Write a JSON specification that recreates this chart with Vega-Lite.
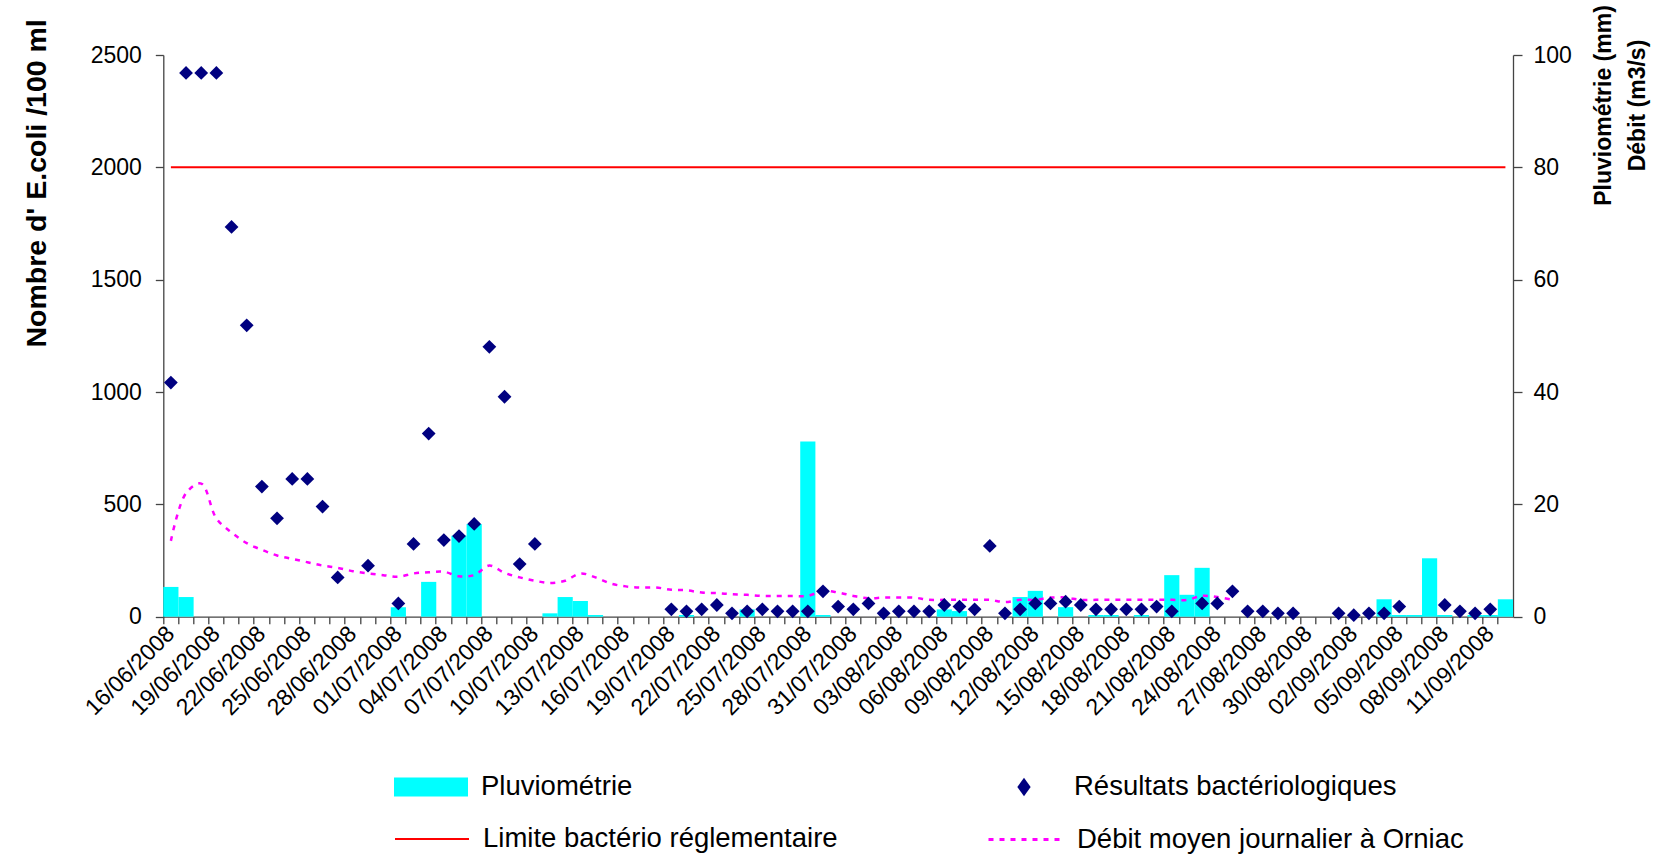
{
  "$schema": "https://vega.github.io/schema/vega-lite/v6.json",
  "width": 1349.7,
  "height": 561.7,
  "autosize": {"type": "none"},
  "padding": {"left": 163.3, "top": 55, "right": 155, "bottom": 238.3},
  "background": "white",
  "config": {
    "view": {"stroke": null},
    "font": "Liberation Sans",
    "axis": {"labelFont": "Liberation Sans", "titleFont": "Liberation Sans", "grid": false, "domainColor": "#444444", "tickColor": "#444444", "labelColor": "black", "titleColor": "black", "domainWidth": 1.3, "tickWidth": 1.3},
    "legend": {"labelFont": "Liberation Sans", "labelFontSize": 27.5, "labelColor": "black", "labelLimit": 800, "labelOffset": 13, "padding": 0, "symbolSize": 5476, "title": null}
  },
  "data": {"values": [
    {"d":"2008-06-16","rain":5.3,"bact":1042,"flow":13.5,"limit":2000},
    {"d":"2008-06-17","rain":3.5,"bact":2420,"flow":22.0,"limit":2000},
    {"d":"2008-06-18","bact":2420,"flow":23.7,"limit":2000},
    {"d":"2008-06-19","bact":2420,"flow":17.5,"limit":2000},
    {"d":"2008-06-20","bact":1735,"flow":15.0,"limit":2000},
    {"d":"2008-06-21","bact":1297,"flow":13.1,"limit":2000},
    {"d":"2008-06-22","bact":579,"flow":11.9,"limit":2000},
    {"d":"2008-06-23","bact":438,"flow":10.9,"limit":2000},
    {"d":"2008-06-24","bact":613,"flow":10.3,"limit":2000},
    {"d":"2008-06-25","bact":613,"flow":9.7,"limit":2000},
    {"d":"2008-06-26","bact":490,"flow":9.1,"limit":2000},
    {"d":"2008-06-27","bact":175,"flow":8.7,"limit":2000},
    {"d":"2008-06-28","flow":8.1,"limit":2000},
    {"d":"2008-06-29","bact":227,"flow":7.7,"limit":2000},
    {"d":"2008-06-30","flow":7.4,"limit":2000},
    {"d":"2008-07-01","rain":1.7,"bact":59,"flow":7.1,"limit":2000},
    {"d":"2008-07-02","bact":324,"flow":7.7,"limit":2000},
    {"d":"2008-07-03","rain":6.2,"bact":815,"flow":7.9,"limit":2000},
    {"d":"2008-07-04","bact":341,"flow":8.0,"limit":2000},
    {"d":"2008-07-05","rain":14.4,"bact":359,"flow":7.2,"limit":2000},
    {"d":"2008-07-06","rain":16.5,"bact":413,"flow":7.4,"limit":2000},
    {"d":"2008-07-07","bact":1201,"flow":9.1,"limit":2000},
    {"d":"2008-07-08","bact":979,"flow":7.8,"limit":2000},
    {"d":"2008-07-09","bact":234,"flow":7.0,"limit":2000},
    {"d":"2008-07-10","bact":324,"flow":6.4,"limit":2000},
    {"d":"2008-07-11","rain":0.6,"flow":6.0,"limit":2000},
    {"d":"2008-07-12","rain":3.5,"flow":6.4,"limit":2000},
    {"d":"2008-07-13","rain":2.8,"flow":7.7,"limit":2000},
    {"d":"2008-07-14","rain":0.3,"flow":7.0,"limit":2000},
    {"d":"2008-07-15","flow":5.9,"limit":2000},
    {"d":"2008-07-16","flow":5.4,"limit":2000},
    {"d":"2008-07-17","flow":5.2,"limit":2000},
    {"d":"2008-07-18","flow":5.2,"limit":2000},
    {"d":"2008-07-19","bact":33,"flow":4.8,"limit":2000},
    {"d":"2008-07-20","rain":0.3,"bact":24,"flow":4.7,"limit":2000},
    {"d":"2008-07-21","bact":33,"flow":4.3,"limit":2000},
    {"d":"2008-07-22","bact":52,"flow":4.2,"limit":2000},
    {"d":"2008-07-23","bact":15,"flow":4.0,"limit":2000},
    {"d":"2008-07-24","rain":1.3,"bact":24,"flow":3.9,"limit":2000},
    {"d":"2008-07-25","bact":33,"flow":3.7,"limit":2000},
    {"d":"2008-07-26","bact":24,"flow":3.7,"limit":2000},
    {"d":"2008-07-27","bact":24,"flow":3.7,"limit":2000},
    {"d":"2008-07-28","rain":31.2,"bact":24,"flow":3.7,"limit":2000},
    {"d":"2008-07-29","rain":0.3,"bact":113,"flow":4.6,"limit":2000},
    {"d":"2008-07-30","bact":45,"flow":4.3,"limit":2000},
    {"d":"2008-07-31","bact":33,"flow":3.7,"limit":2000},
    {"d":"2008-08-01","bact":59,"flow":3.3,"limit":2000},
    {"d":"2008-08-02","bact":15,"flow":3.4,"limit":2000},
    {"d":"2008-08-03","bact":24,"flow":3.4,"limit":2000},
    {"d":"2008-08-04","bact":24,"flow":3.4,"limit":2000},
    {"d":"2008-08-05","bact":24,"flow":3.0,"limit":2000},
    {"d":"2008-08-06","rain":1.3,"bact":52,"flow":3.0,"limit":2000},
    {"d":"2008-08-07","rain":1.0,"bact":45,"flow":3.0,"limit":2000},
    {"d":"2008-08-08","bact":33,"flow":3.0,"limit":2000},
    {"d":"2008-08-09","bact":315,"flow":3.0,"limit":2000},
    {"d":"2008-08-10","bact":15,"flow":2.6,"limit":2000},
    {"d":"2008-08-11","rain":3.5,"bact":33,"flow":3.0,"limit":2000},
    {"d":"2008-08-12","rain":4.6,"bact":59,"flow":3.0,"limit":2000},
    {"d":"2008-08-13","bact":59,"flow":3.4,"limit":2000},
    {"d":"2008-08-14","rain":1.7,"bact":67,"flow":3.4,"limit":2000},
    {"d":"2008-08-15","bact":52,"flow":3.0,"limit":2000},
    {"d":"2008-08-16","rain":0.3,"bact":33,"flow":3.0,"limit":2000},
    {"d":"2008-08-17","rain":0.3,"bact":33,"flow":3.0,"limit":2000},
    {"d":"2008-08-18","bact":33,"flow":3.0,"limit":2000},
    {"d":"2008-08-19","rain":0.3,"bact":33,"flow":3.0,"limit":2000},
    {"d":"2008-08-20","bact":45,"flow":3.0,"limit":2000},
    {"d":"2008-08-21","rain":7.4,"bact":24,"flow":3.0,"limit":2000},
    {"d":"2008-08-22","rain":3.9,"flow":3.0,"limit":2000},
    {"d":"2008-08-23","rain":8.7,"bact":59,"flow":3.7,"limit":2000},
    {"d":"2008-08-24","bact":59,"flow":3.5,"limit":2000},
    {"d":"2008-08-25","bact":113,"flow":3.0,"limit":2000},
    {"d":"2008-08-26","bact":24,"limit":2000},
    {"d":"2008-08-27","bact":24,"limit":2000},
    {"d":"2008-08-28","bact":15,"limit":2000},
    {"d":"2008-08-29","bact":15,"limit":2000},
    {"d":"2008-08-30","limit":2000},
    {"d":"2008-08-31","limit":2000},
    {"d":"2008-09-01","bact":15,"limit":2000},
    {"d":"2008-09-02","bact":7,"limit":2000},
    {"d":"2008-09-03","bact":15,"limit":2000},
    {"d":"2008-09-04","rain":3.1,"bact":15,"limit":2000},
    {"d":"2008-09-05","rain":0.3,"bact":45,"limit":2000},
    {"d":"2008-09-06","rain":0.3,"limit":2000},
    {"d":"2008-09-07","rain":10.4,"limit":2000},
    {"d":"2008-09-08","rain":0.3,"bact":52,"limit":2000},
    {"d":"2008-09-09","bact":24,"limit":2000},
    {"d":"2008-09-10","rain":0.3,"bact":15,"limit":2000},
    {"d":"2008-09-11","rain":0.3,"bact":33,"limit":2000},
    {"d":"2008-09-12","rain":3.1,"limit":2000}
  ]},
  "encoding": {
    "x": {
      "field": "d", "type": "ordinal",
      "scale": {"paddingInner": 0, "paddingOuter": 0},
      "axis": {
        "title": null, "bandPosition": 0, "labelOffset": 0, "labelAngle": -45,
        "labelAlign": "right", "labelBaseline": "middle", "labelFontSize": 23, "labelPadding": 6,
        "tickSize": 7, "labelOverlap": false, "labelBound": false,
        "labelExpr": "round((toDate(datum.value) - toDate('2008-06-16')) / 86400000) % 3 == 0 ? substring(datum.value, 8, 10) + '/' + substring(datum.value, 5, 7) + '/' + substring(datum.value, 0, 4) : ''"
      }
    }
  },
  "layer": [
    {
      "layer": [
        {
          "mark": {"type": "bar", "color": "#00FFFF"},
          "encoding": {
            "y": {"field": "rain", "type": "quantitative", "scale": {"domain": [0, 100]},
              "axis": {"orient": "right", "values": [0, 20, 40, 60, 80, 100], "format": "d", "title": ["Pluviométrie (mm)", "Débit (m3/s)"],
                "titleAngle": 270, "titleX": 90, "titleY": 50, "titleAlign": "center", "titleBaseline": "middle",
                "titleLineHeight": 34, "titleFontSize": 23, "titleFontWeight": "bold", "labelFontSize": 23,
                "tickSize": 9, "labelPadding": 11}},
            "fill": {"datum": "Pluviométrie", "type": "nominal", "scale": {"range": ["#00FFFF"]},
              "legend": {"orient": "none", "legendX": 230.7, "legendY": 695, "symbolType": "M-1,-0.26L1,-0.26L1,0.26L-1,0.26Z", "symbolStrokeWidth": 0, "symbolFillColor": "#00FFFF", "symbolOpacity": 1}}
          }
        },
        {
          "mark": {"type": "line", "color": "#FF00FF", "strokeWidth": 2.5, "interpolate": "catmull-rom"},
          "encoding": {
            "y": {"field": "flow", "type": "quantitative", "scale": {"domain": [0, 100]},
              "axis": {"orient": "right", "values": [0, 20, 40, 60, 80, 100], "format": "d", "title": ["Pluviométrie (mm)", "Débit (m3/s)"],
                "titleAngle": 270, "titleX": 90, "titleY": 50, "titleAlign": "center", "titleBaseline": "middle",
                "titleLineHeight": 34, "titleFontSize": 23, "titleFontWeight": "bold", "labelFontSize": 23,
                "tickSize": 9, "labelPadding": 11}},
            "strokeDash": {"datum": "Débit moyen journalier à Orniac", "type": "nominal", "scale": {"range": [[5, 6]]},
              "legend": {"orient": "none", "legendX": 823.7, "legendY": 746, "symbolType": "stroke", "symbolStrokeColor": "#FF00FF", "symbolStrokeWidth": 3}}
          }
        }
      ]
    },
    {
      "layer": [
        {
          "mark": {"type": "line", "strokeWidth": 2},
          "encoding": {
            "y": {"field": "limit", "type": "quantitative", "scale": {"domain": [0, 2500]},
              "axis": {"orient": "left", "values": [0, 500, 1000, 1500, 2000, 2500], "format": "d", "title": "Nombre d' E.coli /100 ml",
                "titleAngle": 270, "titleX": -127, "titleY": 292, "titleAlign": "left", "titleBaseline": "middle",
                "titleFontSize": 28.5, "titleFontWeight": "bold", "labelFontSize": 23, "tickSize": 8, "labelPadding": 14}},
            "stroke": {"datum": "Limite bactério réglementaire", "type": "nominal", "scale": {"range": ["#FF0000"]},
              "legend": {"orient": "none", "legendX": 230.7, "legendY": 746, "symbolType": "stroke", "symbolStrokeColor": "#FF0000", "symbolStrokeWidth": 2}}
          }
        },
        {
          "mark": {"type": "point", "shape": "diamond", "filled": true, "size": 190, "opacity": 1},
          "encoding": {
            "y": {"field": "bact", "type": "quantitative", "scale": {"domain": [0, 2500]},
              "axis": {"orient": "left", "values": [0, 500, 1000, 1500, 2000, 2500], "format": "d", "title": "Nombre d' E.coli /100 ml",
                "titleAngle": 270, "titleX": -127, "titleY": 292, "titleAlign": "left", "titleBaseline": "middle",
                "titleFontSize": 28.5, "titleFontWeight": "bold", "labelFontSize": 23, "tickSize": 8, "labelPadding": 14}},
            "color": {"datum": "Résultats bactériologiques", "type": "nominal", "scale": {"range": ["#000080"]},
              "legend": {"orient": "none", "legendX": 823.7, "legendY": 695, "symbolType": "M0,-0.25L0.18,0L0,0.25L-0.18,0Z", "symbolStrokeWidth": 0, "symbolFillColor": "#000080", "symbolOpacity": 1}}
          }
        }
      ]
    }
  ],
  "resolve": {"scale": {"y": "independent"}}
}
